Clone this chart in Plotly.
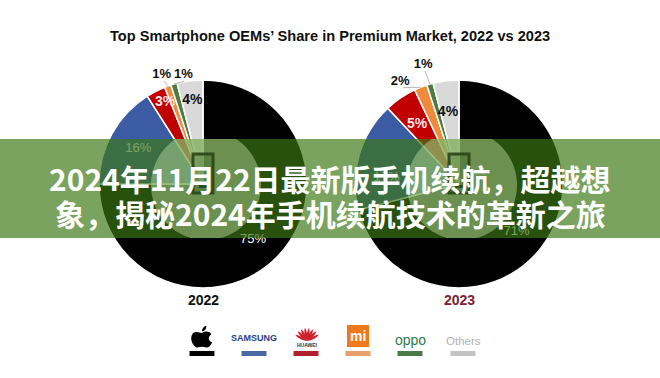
import math
import plotly.graph_objects as go

W, H = 660, 378

# ---------------- data ----------------
oems = ["Apple", "Samsung", "Huawei", "Xiaomi", "Oppo", "Others"]
share_2022 = [75, 16, 3, 1, 1, 4]
share_2023 = [71, 17, 5, 2, 1, 4]
years = ["2022", "2023"]
title_text = "Top Smartphone OEMs’ Share in Premium Market, 2022 vs 2023"
banner_lines = ["2024年11月22日最新版手机续航，超越想", "象，揭秘2024年手机续航技术的革新之旅"]

# ---------------- styles ----------------
colors = ["#000000", "#3b5ba5", "#c00000", "#ed8b3a", "#4b7b3e", "#d9d9d9"]
label_colors = ["#ffffff", "#ffffff", "#fde2e8", "#111111", "#111111", "#111111"]
label_bold = [False, False, True, True, True, True]
label_size = [13, 13, 14, 13, 13, 14]
outside = [False, False, False, True, True, False]
# radial position (fraction of radius) and angular nudge (deg) of each label
label_r = {"2022": [0.72, 0.71, 0.86, 1.12, 1.065, 0.81],
           "2023": [0.72, 0.70, 0.70, 1.13, 1.195, 0.70]}
label_dt = {"2022": [3, 0, 2, -1, 6, 0],
            "2023": [2, -11, -1, -8.4, -0.6, -1.5]}
year_cols = ["#111111", "#7a2232"]
RMAX = 1.3


def px(x):
    return x / W


def py(y):
    return 1 - y / H


centers = [(203, 184), (459, 184)]
R = 104

fig = go.Figure()
for idx, (vals, yr, (cx, cy)) in enumerate(zip([share_2022, share_2023], years, centers)):
    sub = "polar" if idx == 0 else "polar%d" % (idx + 1)
    total = float(sum(vals))
    cum = 0.0
    mids, widths = [], []
    for v in vals:
        widths.append(v / total * 360.0)
        mids.append((cum + v / 2.0) / total * 360.0)
        cum += v
    fig.add_trace(go.Barpolar(
        r=[1] * len(vals), theta=mids, width=widths, subplot=sub,
        marker=dict(color=colors, line=dict(color="white", width=1.5)),
        showlegend=False, hoverinfo="skip"))
    for k, v in enumerate(vals):
        if outside[k]:
            th = mids[k] + label_dt[yr][k]
            fig.add_trace(go.Scatterpolar(
                r=[1.0, label_r[yr][k] - 0.06], theta=[mids[k], th], mode="lines", subplot=sub,
                line=dict(color="#9a9a9a", width=0.7), cliponaxis=False,
                showlegend=False, hoverinfo="skip"))
    texts = []
    for k, v in enumerate(vals):
        t = "%d%%" % v
        texts.append("<b>%s</b>" % t if label_bold[k] else t)
    fig.add_trace(go.Scatterpolar(
        r=label_r[yr], theta=[m + d for m, d in zip(mids, label_dt[yr])], mode="text", text=texts,
        subplot=sub, cliponaxis=False,
        textfont=dict(color=label_colors, size=label_size, family="Liberation Sans, Arial, sans-serif"),
        showlegend=False, hoverinfo="skip"))

polar_common = dict(
    bgcolor="rgba(0,0,0,0)",
    radialaxis=dict(visible=False, range=[0, RMAX], showline=False, showgrid=False),
    angularaxis=dict(visible=False, rotation=90, direction="clockwise", showline=False, showgrid=False),
    hole=0,
)
layout_polars = {}
RD = R * RMAX
for idx, (cx, cy) in enumerate(centers):
    key = "polar" if idx == 0 else "polar%d" % (idx + 1)
    layout_polars[key] = dict(domain=dict(x=[px(cx - RD), px(cx + RD)], y=[py(cy + RD), py(cy - RD)]),
                              **polar_common)

shapes = []
annotations = []


def ann(x, y, text, **font):
    annotations.append(dict(x=px(x), y=py(y), xref="paper", yref="paper", text=text, showarrow=False,
                            xanchor="center", yanchor="middle", font=font))


# title
ann(330, 36, "<b>" + title_text + "</b>", size=14.6, color="#111111", family="Liberation Sans, Arial, sans-serif")

# year labels
for (cx, cy), yr, col in zip(centers, years, year_cols):
    ann(cx, 300, "<b>" + yr + "</b>", size=14, color=col, family="Liberation Sans, Arial, sans-serif")

# banner
BT, BB = 139, 238
shapes.append(dict(type="rect", xref="paper", yref="paper", x0=0, x1=1, y0=py(BB), y1=py(BT),
                   fillcolor="rgba(60,120,20,0.68)", line=dict(width=0), layer="above"))

# light circle clipped to banner + phone icon
for (cx, cy) in centers:
    ccx, ccy, cr = cx + 3, cy + 1, 55
    n = 60

    def hw(y):
        d = cr * cr - (y - ccy) ** 2
        return math.sqrt(d) if d > 0 else 0

    path = "M %f,%f L %f,%f " % (px(ccx - hw(BT)), py(BT), px(ccx + hw(BT)), py(BT))
    a0 = math.asin((BT - ccy) / cr)
    a1 = math.asin(min(1, (BB - ccy) / cr))
    for i in range(1, n + 1):
        a = a0 + (a1 - a0) * i / n
        path += "L %f,%f " % (px(ccx + cr * math.cos(a)), py(ccy + cr * math.sin(a)))
    for i in range(0, n + 1):
        a = a1 + (a0 - a1) * i / n
        path += "L %f,%f " % (px(ccx - cr * math.cos(a)), py(ccy + cr * math.sin(a)))
    path += "Z"
    shapes.append(dict(type="path", xref="paper", yref="paper", path=path,
                       fillcolor="rgba(200,230,170,0.42)", line=dict(width=0), layer="above"))
    x0, x1, y0, y1 = cx - 10, cx + 10, 154, 193
    shapes.append(dict(type="rect", xref="paper", yref="paper", x0=px(x0), x1=px(x1), y0=py(y1), y1=py(y0),
                       fillcolor="rgba(60,100,35,0.35)", line=dict(color="rgba(40,70,22,0.9)", width=3),
                       layer="above"))
    shapes.append(dict(type="rect", xref="paper", yref="paper", x0=px(cx - 4), x1=px(cx + 4), y0=py(188),
                       y1=py(185), fillcolor="rgba(40,70,22,0.9)", line=dict(width=0), layer="above"))

# banner text
for i, line in enumerate(banner_lines):
    ann(330, 178 + 35 * i, "<b>" + line + "</b>", size=30, color="white", family="Noto Sans CJK SC, sans-serif")

# ---------------- brand row ----------------
brand_x = [202, 254, 306, 358, 410, 463]
bar_cols = ["#000000", "#4a68a5", "#b01f30", "#eaa06a", "#4a7a48", "#c2c2c2"]
for bx, bc in zip(brand_x, bar_cols):
    shapes.append(dict(type="rect", xref="paper", yref="paper", x0=px(bx - 12.5), x1=px(bx + 12.5),
                       y0=py(356), y1=py(351), fillcolor=bc, line=dict(width=0), layer="above"))


def sc(p, c=(202, 338), s=0.85):
    return (c[0] + (p[0] - c[0]) * s, c[1] + (p[1] - c[1]) * s)


# apple logo
pts = [(202, 332), (206, 329), (212, 330), (213, 334), (209, 336), (209, 342), (214, 343),
       (212, 348), (209, 350), (206, 349), (204, 348), (200, 348), (198, 349), (195, 350), (191, 346),
       (190, 342), (188, 336), (191, 330), (196, 331), (198, 331), (200, 332)]
pts = [sc(p) for p in pts]
d = "M %f,%f " % (px(pts[0][0]), py(pts[0][1]))
seq = pts[1:] + [pts[0]]
for i in range(0, len(seq), 3):
    c1, c2, e = seq[i], seq[i + 1], seq[i + 2]
    d += "C %f,%f %f,%f %f,%f " % (px(c1[0]), py(c1[1]), px(c2[0]), py(c2[1]), px(e[0]), py(e[1]))
d += "Z"
shapes.append(dict(type="path", xref="paper", yref="paper", path=d, fillcolor="#000000",
                   line=dict(width=0), layer="above"))
lp = [sc(p) for p in [(202, 330), (202, 326), (205, 324), (207, 323.5), (207.5, 327), (205, 330)]]
leaf = "M %f,%f C %f,%f %f,%f %f,%f C %f,%f %f,%f %f,%f Z" % (
    px(lp[0][0]), py(lp[0][1]), px(lp[1][0]), py(lp[1][1]), px(lp[2][0]), py(lp[2][1]), px(lp[3][0]), py(lp[3][1]),
    px(lp[4][0]), py(lp[4][1]), px(lp[5][0]), py(lp[5][1]), px(lp[0][0]), py(lp[0][1]))
shapes.append(dict(type="path", xref="paper", yref="paper", path=leaf, fillcolor="#000000",
                   line=dict(width=0), layer="above"))

# samsung
ann(brand_x[1], 338, "<b>SAMSUNG</b>", size=9, color="#2b3f8c", family="Liberation Sans, Arial, sans-serif")

# huawei petals
hx, hy = brand_x[2] + 1, 341
for k in range(8):
    ang = math.radians(-62 + k * (124 / 7.0))
    L, wdt = 13.5, 2.6
    tipx, tipy = hx + L * math.sin(ang), hy - L * math.cos(ang)
    nx, ny = math.cos(ang), math.sin(ang)
    mx, my = hx + 0.6 * L * math.sin(ang), hy - 0.6 * L * math.cos(ang)
    path = "M %f,%f Q %f,%f %f,%f Q %f,%f %f,%f Z" % (
        px(hx), py(hy), px(mx + wdt * nx), py(my + wdt * ny), px(tipx), py(tipy),
        px(mx - wdt * nx), py(my - wdt * ny), px(hx), py(hy))
    shapes.append(dict(type="path", xref="paper", yref="paper", path=path, fillcolor="#d0202e",
                       line=dict(width=0), layer="above"))
ann(hx, 344.5, "<b>HUAWEI</b>", size=5, color="#333333", family="Liberation Sans, Arial, sans-serif")

# mi logo
mx0 = brand_x[3]
shapes.append(dict(type="rect", xref="paper", yref="paper", x0=px(mx0 - 10), x1=px(mx0 + 10), y0=py(346),
                   y1=py(326), fillcolor="#ee7a1e", line=dict(color="#ee7a1e", width=2), layer="above"))
ann(mx0, 335.5, "<b>mi</b>", size=14, color="white", family="Liberation Sans, Arial, sans-serif")

# oppo
ann(brand_x[4], 340, "oppo", size=14, color="#2e7a48", family="Liberation Sans, Arial, sans-serif")
# others
ann(brand_x[5], 341, "Others", size=11.5, color="#b3b3b3", family="Liberation Sans, Arial, sans-serif")

fig.update_layout(width=W, height=H, margin=dict(l=0, r=0, t=0, b=0), paper_bgcolor="white",
                  plot_bgcolor="white", shapes=shapes, annotations=annotations, **layout_polars)

fig.write_html("out.html", config={"displayModeBar": False},
               post_script="document.body.style.margin='0px';document.body.style.overflow='hidden';")
